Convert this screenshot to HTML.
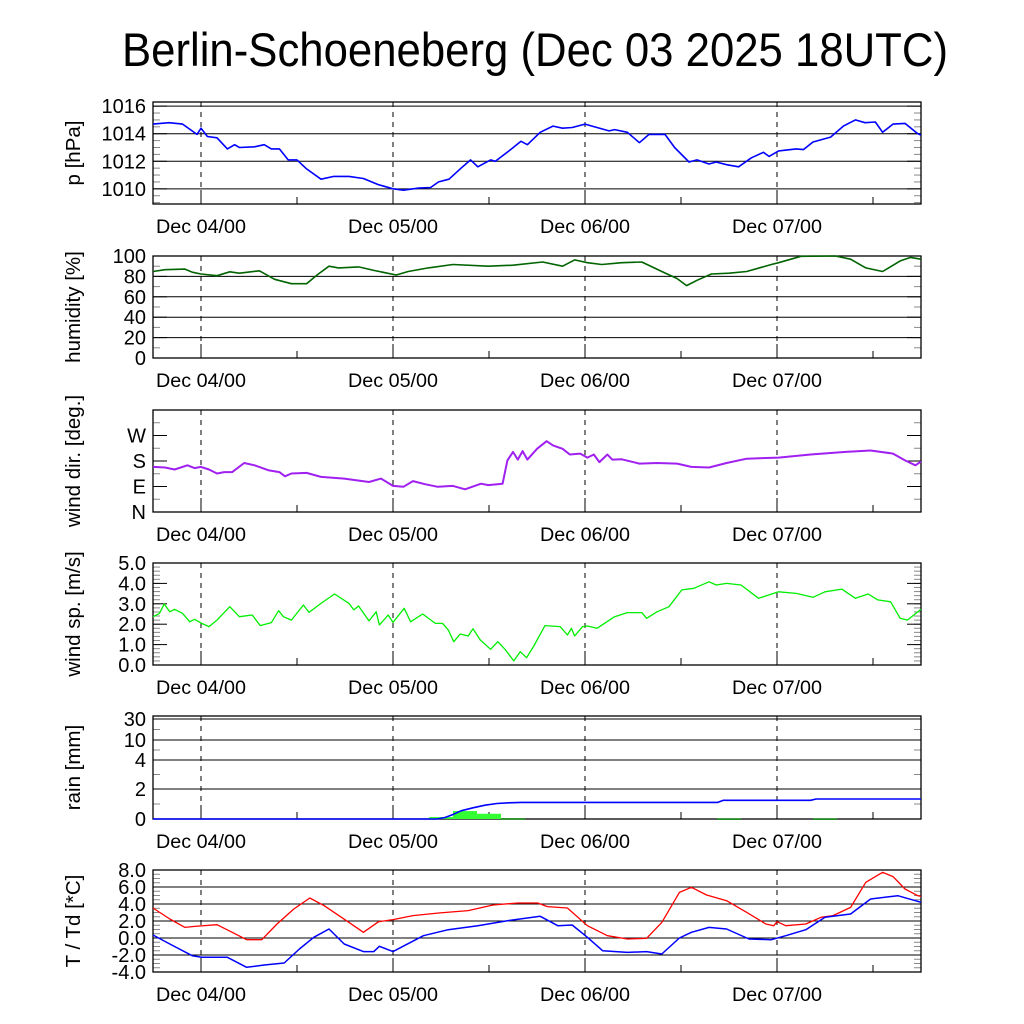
<!DOCTYPE html>
<html><head><meta charset="utf-8"><title>Berlin-Schoeneberg meteogram</title>
<style>html,body{margin:0;padding:0;background:#fff}svg{display:block}text{font-family:"Liberation Sans",sans-serif;fill:#000}</style>
</head><body>
<svg id="chart" xmlns="http://www.w3.org/2000/svg" width="1024" height="1024" viewBox="0 0 1024 1024">
<rect width="1024" height="1024" fill="#fff"/>
<text x="535" y="66" text-anchor="middle" font-size="47" textLength="826" lengthAdjust="spacingAndGlyphs">Berlin-Schoeneberg (Dec 03 2025 18UTC)</text>
</svg>
<script>
// time in hours since Dec 03 18UTC
const dayLabels = ["Dec 04/00","Dec 05/00","Dec 06/00","Dec 07/00"];
const dayHours = [6,30,54,78];

const presH = [0,2,3.7,5.5,6,6.8,8,9.3,10.2,10.8,12.7,13.9,14.8,15.8,16.9,18,19.2,21,22.6,24.5,26.3,28.2,30,31.3,33.2,34.7,35.7,37,38.5,39.7,40.6,42.2,42.8,44.7,46,46.8,48.4,50,51.2,52.4,54,55.5,57,57.7,59.3,60.8,62,64,65.2,67,68,69.5,70.4,71.7,73.2,74.8,76.3,77,78.2,80.4,81.3,82.5,84.7,86.3,87.8,89,90.3,91.2,92.5,94,95.6,96];
const presV = [1014.7,1014.8,1014.7,1013.95,1014.4,1013.8,1013.7,1012.9,1013.2,1013,1013.05,1013.2,1012.9,1012.9,1012.1,1012.1,1011.45,1010.7,1010.9,1010.9,1010.75,1010.3,1010,1009.9,1010.05,1010.1,1010.5,1010.7,1011.5,1012.1,1011.6,1012.1,1012,1012.85,1013.45,1013.2,1014.1,1014.55,1014.4,1014.45,1014.7,1014.45,1014.2,1014.3,1014.1,1013.35,1013.95,1013.95,1013,1011.95,1012.1,1011.8,1011.95,1011.75,1011.6,1012.25,1012.65,1012.35,1012.75,1012.9,1012.85,1013.4,1013.75,1014.55,1015,1014.8,1014.85,1014.1,1014.7,1014.75,1014,1013.9];

const humH = [0,1.5,4,4.9,6,8,9.6,10.8,13.3,15.2,17.3,19.2,20.5,22,23.2,25.7,27.6,30.4,31.9,34.4,37.5,41.9,45,48.7,51.2,52.7,54.3,56.1,58.6,61.1,63.6,65.5,66.7,68,69.8,72,74.2,77.3,78.2,81,85.3,87.2,89.1,91.2,93.4,94.7,96];
const humV = [84.8,86.6,87.2,84.1,82.4,80.7,84.5,83.1,85.5,77.2,72.8,72.8,81.4,90,88.3,89.3,85.9,81.4,84.8,88.3,91.7,90,91,94.1,90,96.2,93.4,91.7,93.4,94.1,84.8,77.9,71,76.2,82.4,83.1,84.8,91.7,93.4,99.7,100,96.9,88.3,84.8,95.2,98.6,96.9];

const dirH = [0,1.5,2.7,4.3,5.2,6,7,8,8.9,9.9,11.4,12.7,14.5,15.8,16.5,17.3,19.2,21,23.9,27,28.5,30,31.3,32.5,34,35.6,37.5,39,41,41.9,43.7,44.3,45,45.6,46.2,46.8,48,49.2,50,51.2,52.1,53.4,54.3,55.1,55.8,56.8,57.4,58.6,60.8,63,65.5,67.3,69.5,71.7,74.2,78.2,82.2,86.6,89.7,92.5,94,95.3,96];
const dirV = [159,157,150,165,155,159,150,136,141,141,173,165,147,141,126,136,138,124,118,106,118,92,89,109,98,89,92,80,100,95,100,182,212,185,215,185,223,250,235,223,203,206,192,203,176,203,185,186,171,173,171,159,157,173,188,192,203,212,217,206,182,165,178];

const spdH = [0,0.8,1.4,2.1,2.7,3.7,4.6,5.2,6.1,7,8,9.6,10.8,12.4,13.4,14.8,15.7,16.3,17.3,18.8,19.5,21,22.7,24.5,25.1,25.7,27,27.9,28.3,29.4,30,31.4,32.2,33.7,35.3,36.2,36.9,37.6,38.4,39.4,40,40.9,42.2,43.1,44,45.1,45.9,46.7,47.6,49,50.9,51.8,52.3,52.7,53.7,54.3,55.5,57.7,59.3,61.1,61.7,63,64.5,66.1,67.6,69.5,70.4,71.7,73.5,75.7,78.2,80.4,82.5,84,86.1,87.8,89.4,90.6,92.2,93.4,94.3,96];
const spdV = [2.37,2.53,2.99,2.61,2.73,2.53,2.12,2.24,2.04,1.88,2.2,2.86,2.37,2.45,1.93,2.08,2.66,2.37,2.2,2.94,2.58,3.02,3.48,3.02,2.7,2.89,2.16,2.61,1.96,2.45,2.09,2.78,2.12,2.5,2.04,2.04,1.72,1.14,1.52,1.42,1.78,1.23,0.77,1.14,0.77,0.2,0.65,0.36,0.93,1.93,1.88,1.47,1.8,1.42,1.88,1.91,1.8,2.37,2.57,2.57,2.29,2.61,2.86,3.68,3.76,4.08,3.92,4.0,3.92,3.27,3.59,3.51,3.32,3.59,3.72,3.27,3.48,3.19,3.1,2.29,2.2,2.73];

const rainBarH = [36,39,42,45,72,84];
const rainBarV = [0.13,0.53,0.35,0.05,0.04,0.04];
const rainBarC = ["#33ff33","#33ff33","#33ff33","#0a8a0a","#0a8a0a","#0a8a0a"];
const rainSumH = [0,35.5,36.5,37.5,38.5,40,41.5,43,44.5,46,70.6,71.3,82.2,82.9,96];
const rainSumV = [0,0,0.1,0.3,0.55,0.75,0.92,1.03,1.08,1.11,1.11,1.25,1.25,1.33,1.33];
const rainTicks = [0,2,4,10,30];
const rainTickY = [819,789,760,740,719]; // axis mapping breakpoints (non-linear scale)

const tempH = [0,2.1,4,5.2,8,9.9,11.7,13.6,15.5,17.6,19.6,21.4,24.5,26.3,28.2,30,32.5,35.7,39.4,42.5,45.6,48.1,49.3,51.8,54.3,56.8,59.3,61.7,63.6,65.8,67.3,69.2,71.7,74.2,76.6,77.6,78,79.1,81.6,83.5,85,87.2,89.1,91.2,92.5,94,95.6,96];
const tempV = [3.53,2.24,1.25,1.37,1.57,0.67,-0.2,-0.2,1.65,3.41,4.71,3.8,1.84,0.67,1.92,2.16,2.63,2.94,3.22,3.88,4.12,4.12,3.69,3.53,1.45,0.27,-0.12,-0.04,1.84,5.37,5.96,5.06,4.39,3.02,1.65,1.45,1.92,1.45,1.65,2.43,2.63,3.6,6.55,7.73,7.22,5.76,4.98,4.9];
const dewH = [0,2.1,4.9,6.1,9.3,11.7,13.9,16.4,18.3,20.1,22,23.9,26.3,27.6,28.3,30,33.8,36.9,40.6,44.3,48.4,50.6,52.4,54.3,56.2,59.3,61.7,63.6,65.8,67.3,69.5,71.7,74.5,77.3,79.1,81.6,84,87.2,89.7,93.1,96];
const dewV = [0.35,-0.7,-2.08,-2.27,-2.27,-3.45,-3.18,-2.94,-1.29,0.08,1.06,-0.7,-1.6,-1.6,-0.98,-1.6,0.27,0.98,1.45,2.04,2.55,1.45,1.53,0.08,-1.49,-1.69,-1.6,-1.88,0,0.67,1.25,1.06,-0.12,-0.2,0.27,0.98,2.43,2.82,4.59,4.98,4.2];

const NS = "http://www.w3.org/2000/svg";
const svg = document.getElementById("chart");
const X0 = 153, X1 = 921, HOURS = 96;
function xs(h){ return X0 + (X1 - X0) * h / HOURS; }
function mk(tag, attrs, parent){ const e = document.createElementNS(NS, tag); for (const k in attrs) e.setAttribute(k, attrs[k]); (parent||svg).appendChild(e); return e; }

function panel(name, top, bottom, yOf, ticks, labels, grid, minor, title){
  const g = mk("g", {});
  
  
  if (grid) ticks.forEach(function(t){
    const y = yOf(t);
    const l = mk("line", {x1:X0, x2:X1, y1:y, y2:y, stroke:"#000", "stroke-width":1}, g);
    
    
  });
  minor.forEach(function(t){
    const y = yOf(t);
    mk("line", {x1:X0, x2:X0+7, y1:y, y2:y, stroke:"#888", "stroke-width":1}, g);
    mk("line", {x1:X1-7, x2:X1, y1:y, y2:y, stroke:"#888", "stroke-width":1}, g);
  });
  ticks.forEach(function(t){
    const y = yOf(t);
    mk("line", {x1:X0, x2:X0+14, y1:y, y2:y, stroke:"#000", "stroke-width":1}, g);
    mk("line", {x1:X1-14, x2:X1, y1:y, y2:y, stroke:"#000", "stroke-width":1}, g);
  });
  dayHours.forEach(function(h, i){
    const x = xs(h);
    const d = mk("line", {x1:x, x2:x, y1:top, y2:bottom, stroke:"#000", "stroke-width":1, "stroke-dasharray":"5,5"}, g);
    
    
    mk("line", {x1:x, x2:x, y1:bottom-14, y2:bottom, stroke:"#000", "stroke-width":1}, g);
    const xl = mk("text", {x:x, y:bottom+29, "font-size":19, "text-anchor":"middle", textLength:90, lengthAdjust:"spacingAndGlyphs"}, g);
    xl.textContent = dayLabels[i];
    
    
  });
  [18,42,66,90].forEach(function(h){
    const x = xs(h);
    mk("line", {x1:x, x2:x, y1:bottom-7, y2:bottom, stroke:"#000", "stroke-width":1}, g);
  });
  ticks.forEach(function(t, i){
    const tl = mk("text", {x:146, y:yOf(t)+7, "font-size":20, "text-anchor":"end"}, g);
    tl.textContent = labels[i];
    
    
  });
  const cy = (top + bottom) / 2;
  const yt = mk("text", {x:0, y:0, "font-size":20.5, "text-anchor":"middle", transform:"translate(80," + cy + ") rotate(-90)"}, g);
  yt.textContent = title;
  
  
  const fr = mk("rect", {x:X0, y:top, width:X1-X0, height:bottom-top, fill:"none", stroke:"#000", "stroke-width":1.3}, g);
  
  
  return g;
}
function series(g, name, hs, vs, yOf, color, w){
  let d = "";
  hs.forEach(function(h, i){ d += (i ? "L" : "M") + xs(h).toFixed(1) + "," + yOf(vs[i]).toFixed(1); });
  const p = mk("path", {d:d, fill:"none", stroke:color, "stroke-width":w||1.6, "stroke-linejoin":"round"}, g);
  
  
  return p;
}
function lin(top, bottom, vmin, vmax){ return function(v){ return bottom - (v - vmin) / (vmax - vmin) * (bottom - top); }; }
function range(a, b, s){ const r = []; for (let v = a; v <= b + 1e-9; v += s) r.push(+v.toFixed(3)); return r; }

// Pressure
const yP = lin(102, 204, 1008.9, 1016.3);
const gP = panel("pressure", 102, 204, yP, [1010,1012,1014,1016], ["1010","1012","1014","1016"], true, range(1009,1016,0.5), "p [hPa]");
series(gP, "pressure-line", presH, presV, yP, "#0000ff");

// Humidity
const yH = lin(256, 358, 0, 100);
const gH = panel("humidity", 256, 358, yH, [0,20,40,60,80,100], ["0","20","40","60","80","100"], true, range(0,100,10), "humidity [%]");
series(gH, "humidity-line", humH, humV, yH, "#006400");

// Wind direction
const yD = lin(410, 512, 0, 360);
const gD = panel("wind-direction", 410, 512, yD, [0,90,180,270], ["N","E","S","W"], false, range(0,360,45), "wind dir. [deg.]");
series(gD, "wind-direction-line", dirH, dirV, yD, "#a020f0", 2);

// Wind speed
const yS = lin(563, 665, 0, 5);
const gS = panel("wind-speed", 563, 665, yS, [0,1,2,3,4,5], ["0.0","1.0","2.0","3.0","4.0","5.0"], false, range(0,5,0.2), "wind sp. [m/s]");
series(gS, "wind-speed-line", spdH, spdV, yS, "#00ee00", 1.3);

// Rain (piecewise scale)
function yR(v){
  for (let i = 1; i < rainTicks.length; i++){
    if (v <= rainTicks[i]) { const a = rainTicks[i-1], b = rainTicks[i]; return rainTickY[i-1] + (v - a) / (b - a) * (rainTickY[i] - rainTickY[i-1]); }
  }
  return rainTickY[rainTickY.length-1];
}
const gR = panel("rain", 716, 819, yR, rainTicks, ["0","2","4","10","30"], true, [1,3,7,20], "rain [mm]");
rainBarH.forEach(function(h, i){
  const x = xs(h - 1.5), w = xs(h + 1.5) - x, y = yR(rainBarV[i]);
  const b = mk("rect", {x:x, y:y, width:w, height:Math.max(819 - y, 1.5), fill:rainBarC[i]}, gR);
  
  
});
series(gR, "rain-cumulative-line", rainSumH, rainSumV, yR, "#0000ff");

// Temperature
const yT = lin(870, 972, -4, 8);
const gT = panel("temperature", 870, 972, yT, [-4,-2,0,2,4,6,8], ["-4.0","-2.0","0.0","2.0","4.0","6.0","8.0"], true, range(-4,8,0.5), "T / Td [*C]");
series(gT, "temperature-line", tempH, tempV, yT, "#ff0000", 1.3);
series(gT, "dewpoint-line", dewH, dewV, yT, "#0000ff", 1.5);
</script>
</body></html>
